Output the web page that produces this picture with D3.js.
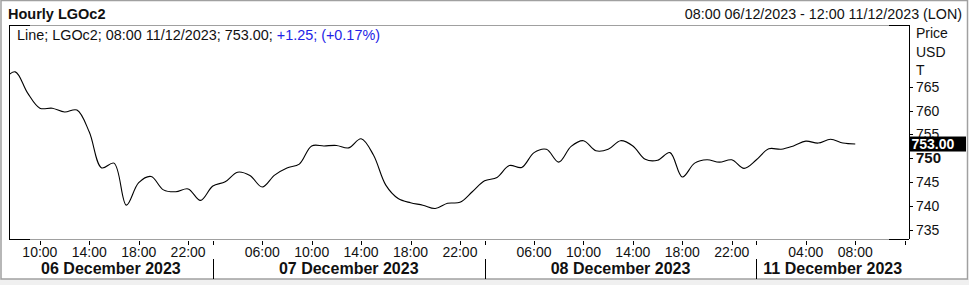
<!DOCTYPE html>
<html>
<head>
<meta charset="utf-8">
<script src="https://cdn.jsdelivr.net/npm/d3@7"></script>
<style>
  body { margin: 0; background: #fff; }
  text { font-family: "Liberation Sans", Arial, sans-serif; fill: #111; }
</style>
</head>
<body>
<div id="chart"></div>
<script>
// hourly bars per trading day (first / last hour shown on the axis)
const days = ["06 December 2023", "07 December 2023", "08 December 2023", "11 December 2023"]
const dayFirstHour = [7, 2, 2, 0]
const dayLastHour = [23, 23, 23, 12]
const tickHours = [[10, 14, 18, 22], [6, 10, 14, 18, 22], [6, 10, 14, 18, 22], [4, 8]]

// close prices, one per hour from 07:00 06 Dec to 08:00 11 Dec
const prices = [
  766.3, 768.1, 763.7, 760.5, 760.5, 759.7, 760.1, 755.5, 748.0, 749.0, 740.2, 744.9, 746.2, 743.4, 743.0, 743.6, 741.2,
  744.2, 745.1, 747.1, 746.4, 744.0, 746.5, 748.0, 748.8, 752.6, 752.6, 752.7, 752.2, 754.1, 750.7, 744.4, 741.6, 740.7, 740.2, 739.5, 740.6, 740.8, 743.0,
  745.3, 746.0, 748.5, 748.1, 751.2, 751.9, 749.2, 752.5, 753.7, 751.6, 751.9, 753.7, 752.6, 749.8, 749.6, 751.2, 746.1, 749.0, 749.7, 749.2, 749.7, 747.9,
  749.7, 752.0, 751.9, 752.6, 753.6, 753.2, 754.0, 753.2, 753.0
]
const yTicks = [735, 740, 745, 750, 755, 760, 765]
const lastPrice = 753.00

const width = 969, height = 285
const plot = { left: 9, right: 909, top: 25, bottom: 239 }

// build the category list (one slot per hourly bar)
var slots = []
days.forEach((d, di) => {
    for (let h = dayFirstHour[di]; h <= dayLastHour[di]; h++) {
        slots.push({ day: di, hour: h, label: String(h).padStart(2, "0") + ":00" })
    }
})

const x = d3.scaleLinear().domain([0.5, slots.length - 0.65]).range([plot.left, plot.right])
const y = d3.scaleLinear().domain([735, 765]).range([230, 86.7])

const svg = d3.select("#chart").append("svg").attr("width", width).attr("height", height)

svg.append("rect").attr("width", width).attr("height", height).attr("fill", "#fff")
// bottom strip and outer frame
svg.append("rect").attr("x", 0).attr("y", 279).attr("width", width).attr("height", 6).attr("fill", "#f0f0f0")
svg.append("rect").attr("x", 1).attr("y", 0.5).attr("width", width - 2.5).attr("height", 278.5)
    .attr("fill", "none").attr("stroke", "#a0a0a0").attr("stroke-width", 1.5)

// header
svg.append("text").attr("x", 8).attr("y", 19).style("font-weight", "bold").style("font-size", "14.5px").text("Hourly LGOc2")
svg.append("text").attr("x", 962).attr("y", 19).attr("text-anchor", "end").style("font-size", "14.3px")
    .text("08:00 06/12/2023 - 12:00 11/12/2023 (LON)")

// plot frame
const frame = svg.append("g").attr("shape-rendering", "crispEdges")
frame.append("line").attr("x1", plot.left).attr("x2", plot.right).attr("y1", plot.top).attr("y2", plot.top).attr("stroke", "#a0a0a0")
frame.append("line").attr("x1", plot.left).attr("x2", plot.right).attr("y1", plot.bottom).attr("y2", plot.bottom).attr("stroke", "#a0a0a0")
;[plot.top, plot.bottom].forEach(yy => {
    frame.append("line").attr("x1", plot.left).attr("x2", plot.left + 21).attr("y1", yy).attr("y2", yy).attr("stroke", "#000")
    frame.append("line").attr("x1", plot.right - 20).attr("x2", plot.right).attr("y1", yy).attr("y2", yy).attr("stroke", "#000")
})
frame.append("line").attr("x1", plot.left).attr("x2", plot.left).attr("y1", plot.top).attr("y2", plot.bottom).attr("stroke", "#000")
frame.append("line").attr("x1", plot.right).attr("x2", plot.right).attr("y1", plot.top).attr("y2", plot.bottom).attr("stroke", "#000")

// legend line
const legend = svg.append("text").attr("x", 17).attr("y", 40).style("font-size", "14.4px")
legend.append("tspan").text("Line; LGOc2; 08:00 11/12/2023; 753.00; ")
legend.append("tspan").style("fill", "#2323e6").text("+1.25; (+0.17%)")

// price line
svg.append("clipPath").attr("id", "clip").append("rect")
    .attr("x", plot.left + 1).attr("y", plot.top + 1).attr("width", plot.right - plot.left - 1).attr("height", plot.bottom - plot.top - 1)
const line = d3.line().x((d, i) => x(i)).y(d => y(d)).curve(d3.curveCatmullRom.alpha(0.5))
svg.append("path").datum(prices).attr("clip-path", "url(#clip)")
    .attr("d", line).attr("fill", "none").attr("stroke", "#000").attr("stroke-width", 1.1)

// y axis on the right
const yAxis = svg.append("g")
yTicks.forEach(t => {
    yAxis.append("line").attr("x1", plot.right).attr("x2", plot.right + 4).attr("y1", Math.round(y(t)) + 0.5).attr("y2", Math.round(y(t)) + 0.5)
        .attr("stroke", "#000").attr("shape-rendering", "crispEdges")
    yAxis.append("text").attr("x", 916).attr("y", y(t) + 5)
        .style("font-size", t == 750 ? "15px" : "14px").style("font-weight", t == 750 ? "bold" : "normal").text(t)
})
;["Price", "USD", "T"].forEach((s, i) => {
    yAxis.append("text").attr("x", 916).attr("y", 38 + i * 18.5).style("font-size", "14px").text(s)
})
yAxis.append("rect").attr("x", 910).attr("y", y(lastPrice) - 7.5).attr("width", 56).attr("height", 15).attr("fill", "#000")
yAxis.append("text").attr("x", 911.5).attr("y", y(lastPrice) + 5).style("fill", "#fff").style("font-weight", "bold")
    .style("font-size", "14px").text(lastPrice.toFixed(2))

// x axis: hour ticks, day separators, day labels
const xAxis = svg.append("g")
slots.forEach((s, i) => {
    const isDayStart = i > 0 && s.day != slots[i - 1].day
    const isTick = tickHours[s.day].includes(s.hour)
    const isEnd = i == slots.length - 1
    if (isDayStart || isTick || isEnd) {
        xAxis.append("line").attr("x1", Math.round(x(i)) + 0.5).attr("x2", Math.round(x(i)) + 0.5).attr("y1", 241).attr("y2", 245)
            .attr("stroke", "#000").attr("shape-rendering", "crispEdges")
    }
    if (isTick) {
        xAxis.append("text").attr("x", x(i)).attr("y", 256.5).attr("text-anchor", "middle").style("font-size", "14px").text(s.label)
    }
    if (isDayStart) {
        xAxis.append("line").attr("x1", Math.round(x(i)) + 0.5).attr("x2", Math.round(x(i)) + 0.5).attr("y1", 259).attr("y2", 279)
            .attr("stroke", "#000").attr("shape-rendering", "crispEdges")
    }
})
days.forEach((d, di) => {
    const idx = slots.map((s, i) => s.day == di ? i : -1).filter(i => i >= 0)
    var x0 = di == 0 ? plot.left : x(idx[0])
    var x1 = di == days.length - 1 ? plot.right : x(idx[idx.length - 1] + 1)
    xAxis.append("text").attr("x", (x0 + x1) / 2).attr("y", 274).attr("text-anchor", "middle")
        .style("font-size", "16px").style("font-weight", "bold").text(d)
})
</script>
</body>
</html>
